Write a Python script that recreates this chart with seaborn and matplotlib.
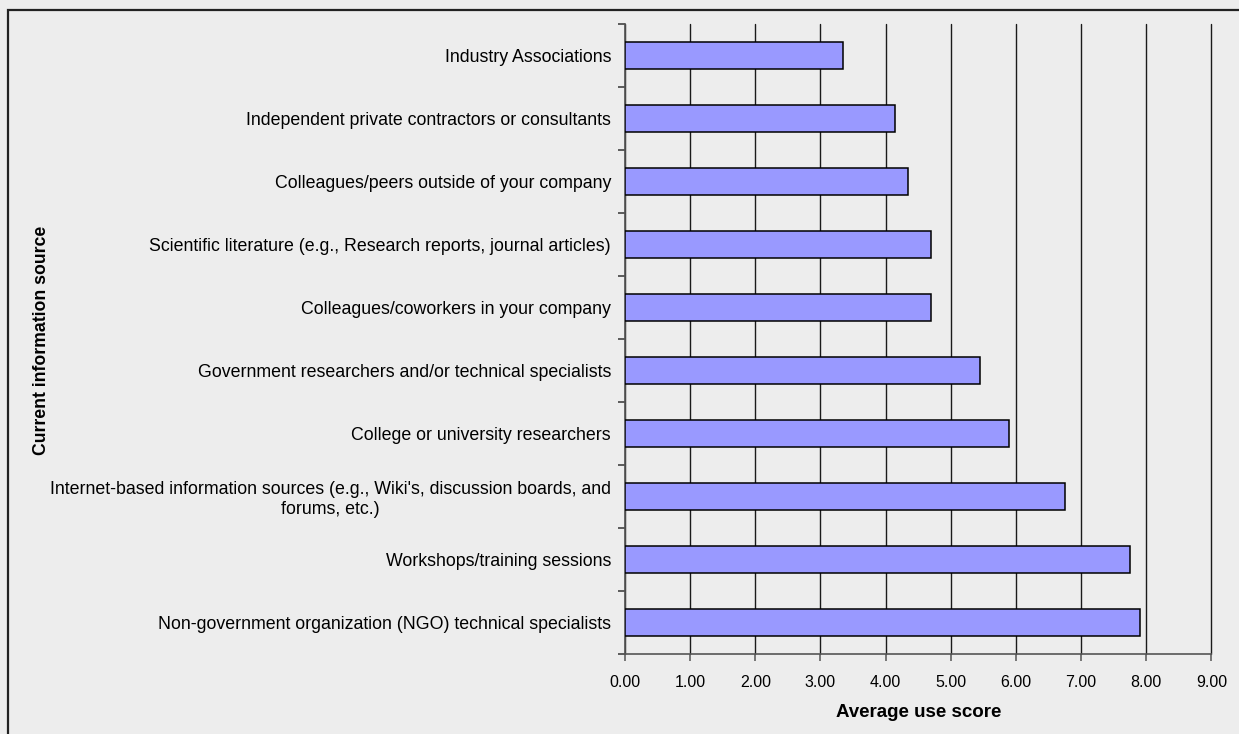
import matplotlib
matplotlib.use("Agg")
import matplotlib.pyplot as plt
from matplotlib.patches import Rectangle
from matplotlib.ticker import FixedLocator, FormatStrFormatter
import seaborn as sns
import pandas as pd

sources = [
    "Industry Associations",
    "Independent private contractors or consultants",
    "Colleagues/peers outside of your company",
    "Scientific literature (e.g., Research reports, journal articles)",
    "Colleagues/coworkers in your company",
    "Government researchers and/or technical specialists",
    "College or university researchers",
    "Internet-based information sources (e.g., Wiki's, discussion boards, and\nforums, etc.)",
    "Workshops/training sessions",
    "Non-government organization (NGO) technical specialists",
]
scores = [3.35, 4.15, 4.35, 4.70, 4.70, 5.45, 5.90, 6.75, 7.75, 7.91]
x_ticks = [0, 1, 2, 3, 4, 5, 6, 7, 8, 9]

bg = "#EDEDED"
sns.set_theme(style="white")
plt.rcParams["font.family"] = ["Liberation Sans", "DejaVu Sans"]
plt.rcParams["text.color"] = "black"
plt.rcParams["axes.labelcolor"] = "black"

W, H = 1239, 734
fig = plt.figure(figsize=(W / 100, H / 100), dpi=100, facecolor=bg)
ax = fig.add_axes([625 / W, 1 - 654 / H, (1211.4 - 625) / W, (654 - 24) / H])
ax.set_facecolor(bg)

df = pd.DataFrame({"source": sources, "score": scores})
sns.barplot(data=df, x="score", y="source", order=sources, orient="h",
            color="#9999FF", saturation=1, width=0.42,
            edgecolor="black", linewidth=1.1, ax=ax, zorder=3)

ax.set_xlim(0, 9)
ax.set_ylim(len(sources) - 0.5, -0.5)

# vertical gridlines at each score unit
ax.xaxis.set_major_locator(FixedLocator(x_ticks))
ax.xaxis.set_major_formatter(FormatStrFormatter("%.2f"))
ax.grid(axis="x", color="#1a1a1a", linewidth=1.0, zorder=0)
ax.set_axisbelow(True)
for gl in ax.get_xgridlines():
    gl.set_clip_on(False)

for s in ["top", "right"]:
    ax.spines[s].set_visible(False)
for s in ["left", "bottom"]:
    ax.spines[s].set_color("#555555")
    ax.spines[s].set_linewidth(1.2)

# category tick marks sit between bars
ax.yaxis.set_minor_locator(FixedLocator([i - 0.5 for i in range(len(sources) + 1)]))
ax.tick_params(axis="y", which="major", length=0, pad=10, labelsize=12.8, labelcolor="black")
ax.tick_params(axis="y", which="minor", length=5, width=1.1, color="#333333", left=True)
ax.tick_params(axis="x", which="major", length=5, width=1.1, color="#555555",
               bottom=True, labelsize=11.5, labelcolor="black", pad=10)
for lbl in ax.get_yticklabels():
    lbl.set_multialignment("center")

ax.set_xlabel("Average use score", fontsize=13.5, fontweight="bold", labelpad=10,
              color="black")
ax.set_ylabel("")
fig.text(42 / W, 1 - 340 / H, "Current information source", rotation=90,
         ha="center", va="center", fontsize=12.7, fontweight="bold", color="black")

# outer frame
fig.patches.append(Rectangle((8 / W, -0.05), 1.1, 1 - 10 / H + 0.05,
                             transform=fig.transFigure, fill=False,
                             edgecolor="#222222", linewidth=1.6))

fig.savefig("out.png", dpi=100, facecolor=bg)
